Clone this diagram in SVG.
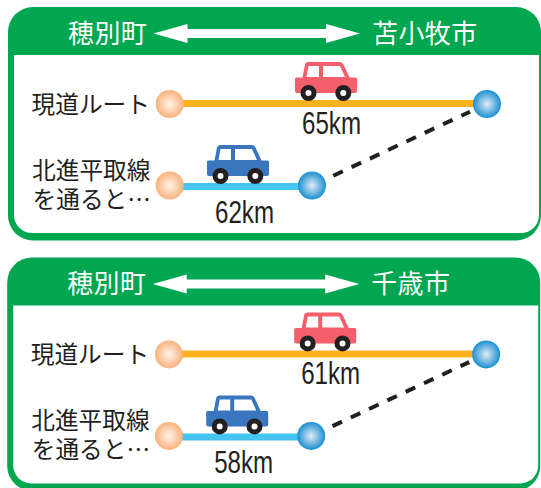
<svg xmlns="http://www.w3.org/2000/svg" width="541" height="488" viewBox="0 0 541 488" lang="ja">
<style>
text{font-family:"Noto Sans CJK JP","Noto Sans",sans-serif}
.hd{font-size:26px;fill:#fff;font-weight:400}
.lb{font-size:23.7px;fill:#231f20}
.km{font-family:"Liberation Sans","Noto Sans",sans-serif;font-size:32px;fill:#231f20}
.or{stroke:#fdb11c;stroke-width:7;fill:none}
.bl{stroke:#45c4f2;stroke-width:7;fill:none}
.da{stroke:#231f20;stroke-width:4;stroke-dasharray:10.5 9.7;fill:none}
</style>
<defs>
<radialGradient id="go"><stop offset="0" stop-color="#fff4ea"/><stop offset="1" stop-color="#f9b27c"/></radialGradient>
<radialGradient id="gb"><stop offset="0" stop-color="#e4ebf6"/><stop offset="1" stop-color="#1a8fd1"/></radialGradient>
<g id="panel">
<rect x="8" y="7" width="533" height="233.5" rx="25" fill="#00a650"/>
<path d="M14 55H539V215a18 18 0 0 1-18 18H32a18 18 0 0 1-18-18Z" fill="#fff"/>
<path d="M153.500 33.500L187.500 24V29H326V24L360 33.500L326 43V38H187.500V43Z" fill="#fff"/>
</g>
<g id="carshape">
<path d="M295 79a1.500 1.500 0 0 1 1.500-1.500H302.500L305 64.500Q305.500 62 308 62H340Q342.500 62 343.500 64.500L349.500 77.500H355.500a1.500 1.500 0 0 1 1.500 1.500V91a2 2 0 0 1-2 2H297a2 2 0 0 1-2-2Z"/>
<path d="M308.500 66H319V77H306.500ZM323 66H340L345 77H323Z" fill="#fff"/>
<g fill="#fff" stroke="#231f20" stroke-width="5"><circle cx="308.500" cy="93" r="5.500"/><circle cx="343.300" cy="93" r="5.500"/></g>
</g>
</defs>

<g id="panel-top">
<use href="#panel"/>
<g id="connectors-top">
<path class="or" d="M170 103.500H487"/>
<path class="bl" d="M170 186.500H312"/>
<path class="da" d="M333.300 175.700L470 111.700"/>
</g>
<g id="node-a1"><text class="hd" x="68" y="43" letter-spacing="0.400">穂別町</text></g>
<g id="node-b1"><text class="hd" x="372" y="43" letter-spacing="0.400">苫小牧市</text></g>
<g id="node-route1"><text class="lb" x="31.500" y="113">現道ルート</text><circle cx="169.700" cy="104" r="14" fill="url(#go)"/></g>
<g id="node-route1-end"><circle cx="487" cy="104" r="14" fill="url(#gb)"/></g>
<g id="node-alt1"><text class="lb"><tspan x="32" y="179">北進平取線</tspan><tspan x="32.500" y="208">を通ると…</tspan></text><circle cx="169.700" cy="185.500" r="14" fill="url(#go)"/></g>
<g id="node-alt1-end"><circle cx="312" cy="185.500" r="14" fill="url(#gb)"/></g>
<g id="car-red1"><use href="#carshape" fill="#f55f6b"/></g>
<g id="car-blue1" transform="translate(-88 83)"><use href="#carshape" fill="#3a76bd"/></g>
<text class="km" x="302" y="134" textLength="59" lengthAdjust="spacingAndGlyphs">65km</text>
<text class="km" x="215" y="223" textLength="59" lengthAdjust="spacingAndGlyphs">62km</text>
</g>

<g id="panel-bottom" transform="translate(-0.800 250.400)">
<use href="#panel"/>
<g id="connectors-bottom">
<path class="or" d="M170 103.500H487"/>
<path class="bl" d="M170 186.500H312"/>
<path class="da" d="M333.300 175.700L470 111.700"/>
</g>
<g id="node-a2"><text class="hd" x="68" y="43" letter-spacing="0.400">穂別町</text></g>
<g id="node-b2"><text class="hd" x="372" y="43" letter-spacing="0.400">千歳市</text></g>
<g id="node-route2"><text class="lb" x="31.500" y="113">現道ルート</text><circle cx="169.700" cy="104" r="14" fill="url(#go)"/></g>
<g id="node-route2-end"><circle cx="487" cy="104" r="14" fill="url(#gb)"/></g>
<g id="node-alt2"><text class="lb"><tspan x="32" y="179">北進平取線</tspan><tspan x="32.500" y="208">を通ると…</tspan></text><circle cx="169.700" cy="185.500" r="14" fill="url(#go)"/></g>
<g id="node-alt2-end"><circle cx="312" cy="185.500" r="14" fill="url(#gb)"/></g>
<g id="car-red2"><use href="#carshape" fill="#f55f6b"/></g>
<g id="car-blue2" transform="translate(-88 83)"><use href="#carshape" fill="#3a76bd"/></g>
<text class="km" x="302" y="134" textLength="59" lengthAdjust="spacingAndGlyphs">61km</text>
<text class="km" x="215" y="223" textLength="59" lengthAdjust="spacingAndGlyphs">58km</text>
</g>
</svg>
